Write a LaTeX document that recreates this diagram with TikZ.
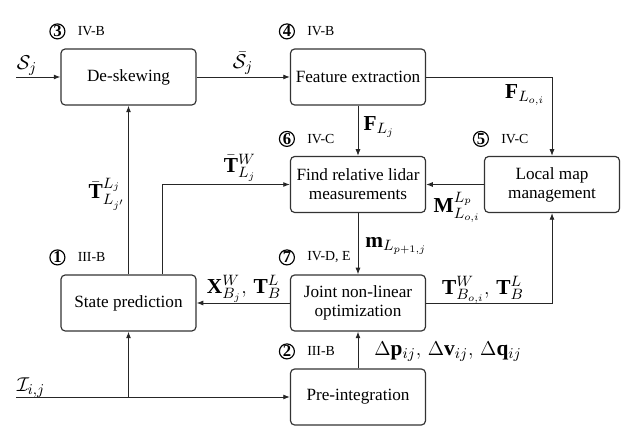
\documentclass[tikz,border=0pt]{standalone}
\usepackage{fontspec}
\setmainfont{Liberation Serif}
\usetikzlibrary{arrows.meta,calc}
\begin{document}
\begin{tikzpicture}[x=0.6pt,y=-0.6pt,
 box/.style={draw=black!80, line width=0.7pt, rounded corners=2.5pt, minimum width=81pt, minimum height=33.6pt, inner sep=0pt, align=center, font=\fontsize{10.3}{11.5}\selectfont},
 conn/.style={line width=0.55pt, draw=black!85, -{Latex[length=4pt,width=3pt]}},
 lab/.style={font=\fontsize{12.8}{15}\selectfont, inner sep=0pt},
 num/.style={circle, draw, line width=0.7pt, inner sep=0pt, minimum size=9pt, font=\normalsize},
 sec/.style={font=\fontsize{8.3}{10}\selectfont, anchor=west, inner sep=0pt}]
\useasboundingbox (0,0) rectangle (635,432);
% boxes
\node[box] (ds) at (128.5,77) {De-skewing};
\node[box] (fe) at (358,77) {Feature extraction};
\node[box] (fr) at (358,184.5) {Find relative lidar\\measurements};
\node[box] (lm) at (552,184.5) {Local map\\management};
\node[box] (sp) at (128.5,303) {State prediction};
\node[box] (jo) at (358,303) {Joint non-linear\\optimization};
\node[box] (pi) at (358,397) {Pre-integration};
% step numbers and sections
\foreach \b/\n/\s in {ds/3/IV-B, fe/4/IV-B, fr/6/IV-C, lm/5/IV-C, sp/1/III-B, jo/7/{IV-D, E}, pi/2/III-B}{
  \node[num] (c\n) at ($(\b.north west)+(-3,-17)$) {$\mathbf{\n}$};
  \node[sec] (t\n) at ($(\b.north west)+(17,-17)$) {\s};
}
% coordinates
\coordinate (sin) at (16,77);
\coordinate (iin) at (16,397);
\coordinate (br) at (sp.center |- iin);
\coordinate (spo) at ($(sp.north)+(33.5,0)$);
% connectors
\draw[conn] (sin) -- (ds.west);
\draw[conn] (ds) -- (fe);
\draw[conn] (fe.east) -| (lm.north);
\draw[conn] (fe) -- (fr);
\draw[conn] (lm) -- (fr);
\draw[conn] (fr) -- (jo);
\draw[conn] (jo.east) -| (lm.south);
\draw[conn] (jo) -- (sp);
\draw[conn] (pi) -- (jo);
\draw[conn] (iin) -- (pi.west);
\draw[conn] (br) -- (sp.south);
\draw[conn] (sp) -- (ds);
\draw[conn] (spo) |- (fr.west);
% labels
\node[lab] (l1) at (27,66) {$\mathcal{S}_j$};
\node[lab] (l2) at (243,63) {$\bar{\mathcal{S}}_j$};
\node[lab] (l3) at (525,95) {$\mathbf{F}_{L_{o,i}}$};
\node[lab] (l4) at (379,127) {$\mathbf{F}_{L_j}$};
\node[lab] (l5) at (457,207) {$\mathbf{M}^{L_p}_{L_{o,i}}$};
\node[lab] (l6) at (396,246) {$\mathbf{m}_{L_{p+1,j}}$};
\node[lab] (l7) at (483,290) {$\mathbf{T}^W_{B_{o,i}},\,\mathbf{T}^L_B$};
\node[lab] (l8) at (448,352) {$\Delta\mathbf{p}_{ij},\,\Delta\mathbf{v}_{ij},\,\Delta\mathbf{q}_{ij}$};
\node[lab] (l9) at (244,289) {$\mathbf{X}^W_{B_j},\,\mathbf{T}^L_B$};
\node[lab] (l10) at (31,388) {$\mathcal{I}_{i,j}$};
\node[lab] (l11) at (107,194) {$\bar{\mathbf{T}}^{L_j}_{L_{j'}}$};
\node[lab] (l12) at (240,168) {$\bar{\mathbf{T}}^W_{L_j}$};
\end{tikzpicture}
\end{document}
